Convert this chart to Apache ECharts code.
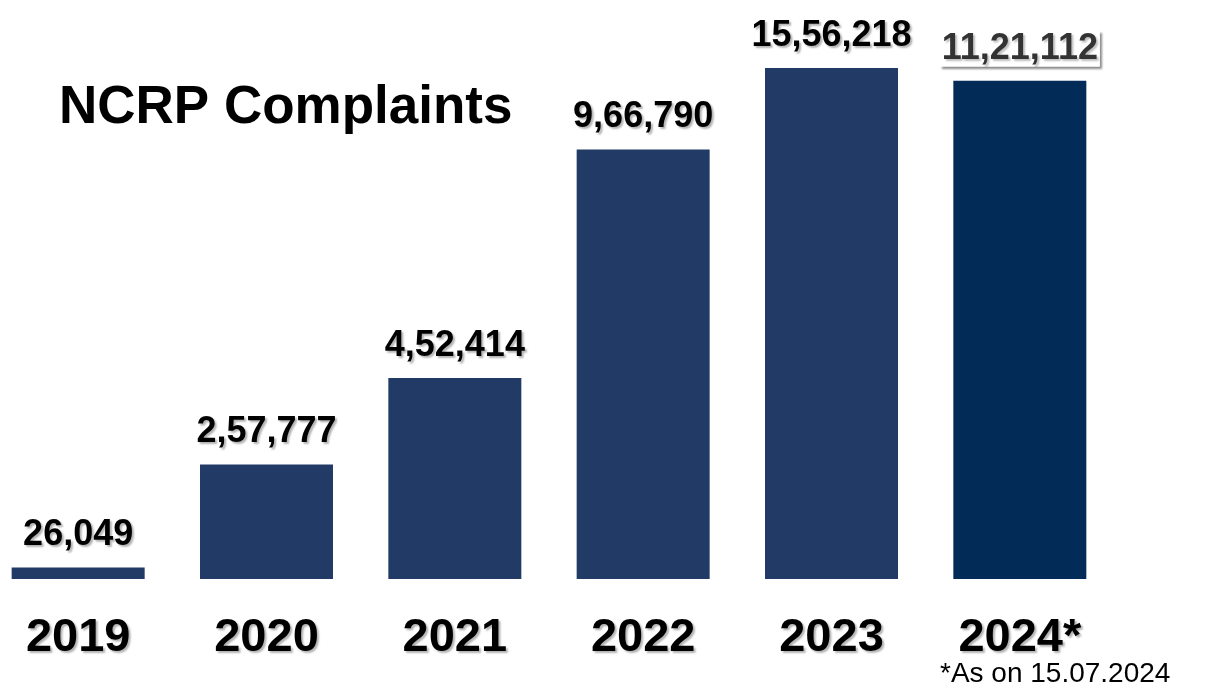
<!DOCTYPE html>
<html>
<head>
<meta charset="utf-8">
<script src="https://cdn.jsdelivr.net/npm/echarts@6/dist/echarts.min.js"></script>
<style>
html,body{margin:0;padding:0;background:#fff;overflow:hidden;}
#chart{position:absolute;left:-16px;top:0;width:1228px;height:692px;}
</style>
</head>
<body>
<div id="chart"></div>
<script>
const categories = ['2019', '2020', '2021', '2022', '2023', '2024*'];
const complaints = [26049, 257777, 452414, 966790, 1556218, 1121112];
const valueLabels = ['26,049', '2,57,777', '4,52,414', '9,66,790', '15,56,218', '11,21,112'];
const titleText = 'NCRP Complaints';
const footnote = '*As on 15.07.2024';

const FONT = '"Liberation Sans", Arial, sans-serif';
const chart = echarts.init(document.getElementById('chart'));

const seriesData = complaints.map((v, i) => {
  const item = { value: v };
  if (i === complaints.length - 1) {
    item.itemStyle = { color: '#032B57' };
    item.label = {
      color: '#333333',
      backgroundColor: '#ffffff',
      padding: [0, 2, 0, 2],
      shadowColor: 'rgba(0,0,0,0.45)',
      shadowBlur: 2,
      shadowOffsetX: 2,
      shadowOffsetY: 2,
      textShadowColor: 'rgba(0,0,0,0.25)'
    };
  }
  return item;
});

chart.setOption({
  animation: false,
  backgroundColor: '#ffffff',
  title: {
    text: titleText,
    left: 75,
    top: 82,
    padding: 0,
    textStyle: { fontFamily: FONT, fontWeight: 'bold', fontSize: 53, color: '#000' }
  },
  grid: { left: 0, right: 98, top: 68, bottom: 113, containLabel: false },
  xAxis: {
    type: 'category',
    data: categories,
    axisLine: { show: false },
    axisTick: { show: false },
    axisLabel: {
      margin: 36,
      fontFamily: FONT,
      fontWeight: 'bold',
      fontSize: 47,
      color: '#000',
      textShadowColor: 'rgba(0,0,0,0.3)',
      textShadowBlur: 2,
      textShadowOffsetX: 2,
      textShadowOffsetY: 2
    }
  },
  yAxis: {
    type: 'value',
    min: 0,
    max: 1150000,
    show: false,
    splitLine: { show: false }
  },
  series: [{
    type: 'bar',
    data: seriesData,
    barWidth: 133,
    clip: true,
    itemStyle: { color: '#223A66' },
    label: {
      show: true,
      position: 'top',
      distance: 14,
      formatter: p => valueLabels[p.dataIndex],
      fontFamily: FONT,
      fontWeight: 'bold',
      fontSize: 36,
      color: '#000',
      textShadowColor: 'rgba(0,0,0,0.3)',
      textShadowBlur: 2,
      textShadowOffsetX: 2,
      textShadowOffsetY: 2
    }
  }],
  graphic: [{
    type: 'text',
    left: 956,
    top: 660,
    style: { text: footnote, fontFamily: FONT, fontSize: 28, fill: '#000' }
  }]
});
</script>
</body>
</html>
